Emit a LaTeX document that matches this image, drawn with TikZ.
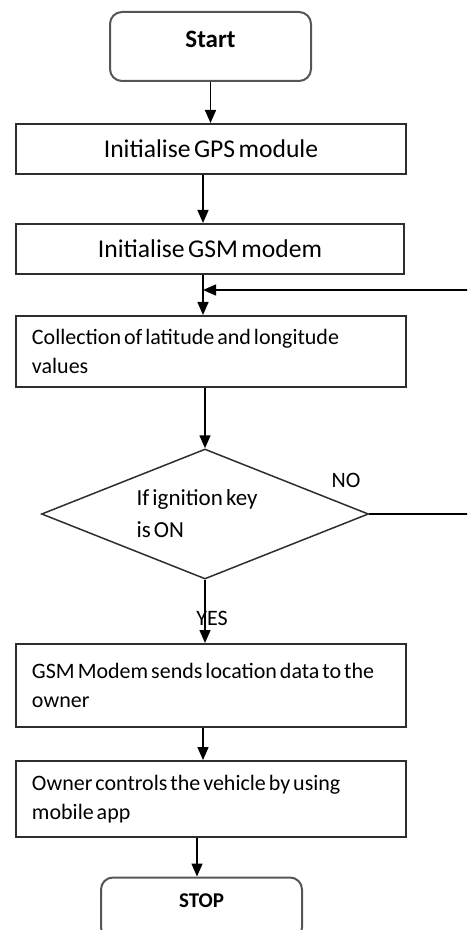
\documentclass[tikz,border=0pt]{standalone}
\usepackage{fontspec}
\setmainfont{Carlito}[WordSpace=0.6]
\usepackage{xcolor}
\usetikzlibrary{positioning,arrows.meta,shapes.geometric}
\definecolor{BoxInk}{HTML}{2E2E2E}
\definecolor{TermInk}{HTML}{555555}
\begin{document}
\begin{tikzpicture}[x=0.5pt, y=-0.5pt, >={Triangle[length=6.5pt, width=5.5pt]},
    procbox/.style={draw=BoxInk, line width=1pt, minimum width=195pt, inner xsep=8pt, inner ysep=0pt},
    textbox/.style={procbox, align=flush left, text width=179pt, font=\fontsize{11}{14.5}\selectfont},
    termbox/.style={draw=TermInk, line width=1pt, rounded corners=6pt, minimum width=100.5pt, text depth=7.5pt},
    arr/.style={->, line width=0.75pt, black},
    tag/.style={font=\fontsize{11}{13}\selectfont}]
      \useasboundingbox (0,0) rectangle (467,930);
      \clip (0,0) rectangle (467,930);
      \node[termbox, minimum height=34.5pt, font=\fontsize{12.5}{15}\selectfont\bfseries] (start) at (210.5,46.5) {Start};
      \node[procbox, minimum height=25pt, font=\fontsize{12.8}{15}\selectfont] (gps) at (211,149) {Initialise GPS module};
      \node[procbox, minimum width=194pt, minimum height=25pt, font=\fontsize{12.8}{15}\selectfont] (gsm) at (210,249) {Initialise GSM modem};
      \node[textbox, minimum height=35.5pt] (collect) at (211,351.5) {Collection of latitude and longitude\\values};
      \node[draw=BoxInk, line width=0.75pt, diamond, aspect=2.5, minimum width=163.5pt, minimum height=65pt, inner sep=0pt, align=flush left, font=\fontsize{11.5}{16}\selectfont] (ign) at (205,514) {If ignition key\hspace*{8pt}\\is ON};
      \node[textbox, minimum height=41.5pt] (send) at (211,685.5) {GSM Modem sends location data to the\\owner};
      \node[textbox, minimum height=38pt] (owner) at (211,799) {Owner controls the vehicle by using\\mobile app};
      \node[termbox, minimum height=31pt, font=\fontsize{10.5}{13}\selectfont\bfseries] (stop) at (201.5,908.5) {STOP};
      \coordinate (merge) at (203,290);
      \coordinate (loopR) at (490,0);
      \draw[arr] (start.south) -- (start.south |- gps.north);
      \draw[arr] ([xshift=-4pt]gps.south) -- ([xshift=-4pt]gps.south |- gsm.north);
      \draw[arr] ([xshift=-3.5pt]gsm.south) -- ([xshift=-4pt]collect.north);
      \draw[arr] (collect.south -| ign.north) -- (ign.north);
      \draw[arr] (ign.south) -- (ign.south |- send.north);
      \draw[arr] ([xshift=-4pt]send.south) -- ([xshift=-4pt]owner.north);
      \draw[arr] ([xshift=-7pt]owner.south) -- ([xshift=-7pt]owner.south |- stop.north);
      \draw[arr] (ign.east) -- (ign.east -| loopR) -- (loopR |- merge) -- (merge);
      \node[tag] (no) at (346,480) {NO};
      \node[tag] (yes) at (212,618) {YES};
    \end{tikzpicture}
\end{document}
